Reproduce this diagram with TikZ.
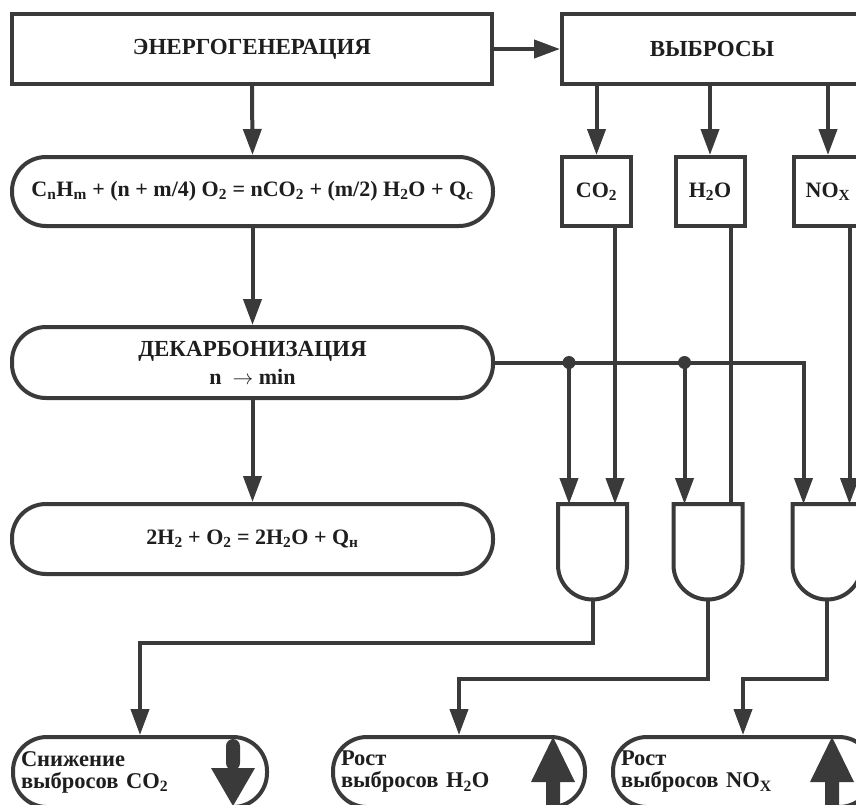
\documentclass[tikz,border=0pt]{standalone}
\usepackage{fontspec}
\setmainfont{Liberation Serif}
\usetikzlibrary{arrows.meta}
\definecolor{lc}{HTML}{3A3A3A}
\definecolor{tc}{HTML}{1E1E1E}
\newcommand{\sbs}[1]{\textsubscript{#1}}
\begin{document}
\begin{tikzpicture}[x=1pt,y=-1pt,
  box/.style={draw=lc, line width=4pt, fill=white, inner sep=0pt, text=tc,
    font=\bfseries\fontsize{23}{25}\selectfont, align=center},
  stad/.style={box, rounded corners=34pt, minimum width=481pt,
    font=\bfseries\fontsize{22}{28}\selectfont},
  sq/.style={box, minimum width=69pt, minimum height=69pt,
    font=\bfseries\fontsize{22}{24}\selectfont},
  res/.style={box, rounded corners=34pt, minimum height=70pt, align=left,
    font=\bfseries\fontsize{22.5}{22}\selectfont},
  arr/.style={draw=lc, line width=4pt, -{Triangle[length=26pt,width=18pt]}},
  wire/.style={draw=lc, line width=4pt},
  bigarr/.style={fill=lc, draw=none},
  ]
\useasboundingbox (0,0) rectangle (856,804);
\clip (0,0) rectangle (856,804);

% left column
\node[box, minimum width=480pt, minimum height=70pt] (en) at (252,49) {ЭНЕРГОГЕНЕРАЦИЯ};
\node[stad, minimum height=69pt] (f1) at (252.5,191.5)
  {C\sbs{n}H\sbs{m} + (n + m/4) O\sbs{2} = nCO\sbs{2} + (m/2) H\sbs{2}O + Q\sbs{c}};
\node[stad, minimum height=71pt] (dk) at (252.5,362.5)
  {{\fontsize{23}{28}\selectfont ДЕКАРБОНИЗАЦИЯ}\\n~~$\rightarrow$ min};
\node[stad, minimum height=70pt] (f2) at (252.5,539)
  {2H\sbs{2} + O\sbs{2} = 2H\sbs{2}O + Q\sbs{н}};

% right column
\node[box, minimum width=300pt, minimum height=70pt] (vy) at (712,49) {ВЫБРОСЫ};
\node[sq] (co2) at (596.5,191.5) {CO\sbs{2}};
\node[sq] (h2o) at (710,191.5) {H\sbs{2}O};
\node[sq] (nox) at (828,191.5) {NO\sbs{X}};

% gates
\foreach \i/\x in {1/592.5, 2/708, 3/827}{
  \draw[wire, fill=white] (\x-34.5,504) -- (\x+34.5,504) -- (\x+34.5,565)
    arc[start angle=0, end angle=180, radius=34.5] -- cycle;
  \coordinate (g\i a) at (\x-23.5,504);
  \coordinate (g\i b) at (\x+22.5,504);
  \coordinate (g\i o) at (\x,599.5);
}

% result boxes
\node[res, minimum width=254pt, text width=238pt] (r1) at (140,772)
  {Снижение\\выбросов CO\sbs{2}};
\node[res, minimum width=252pt, text width=236pt] (r2) at (459,772)
  {Рост\\выбросов H\sbs{2}O};
\node[res, minimum width=260pt, text width=244pt] (r3) at (743,772)
  {Рост\\выбросов NO\sbs{X}};

% big arrows inside result boxes
\path[bigarr, rounded corners=7pt] (226,770) -- (226,739) -- (240,739) -- (240,770) -- cycle;
\path[bigarr] (211,768) -- (255,768) -- (233,806) -- cycle;
\path[bigarr] (553,737) -- (575,782) -- (560,782) -- (560,810) -- (546,810) -- (546,782) -- (531,782) -- cycle;
\path[bigarr] (832,737) -- (854,782) -- (839,782) -- (839,810) -- (825,810) -- (825,782) -- (810,782) -- cycle;

% connectors
\draw[arr] (en.east) -- (vy.west);
\draw[arr] (en.south) -- (f1.north);
\draw[arr] (f1.south) -- (dk.north);
\draw[arr] (dk.south) -- (f2.north);
\draw[arr] (vy.south -| co2.north) -- (co2.north);
\draw[arr] (vy.south -| h2o.north) -- (h2o.north);
\draw[arr] (vy.south -| nox.north) -- (nox.north);

\draw[arr] (co2.south -| g1b) -- (g1b);
\draw[wire] (h2o.south -| g2b) -- (g2b);
\draw[arr] (nox.south -| g3b) -- (g3b);

\coordinate (j1) at (dk.east -| g1a);
\coordinate (j2) at (dk.east -| g2a);
\draw[arr] (dk.east) -| (g3a);
\draw[arr] (j1) -- (g1a);
\draw[arr] (j2) -- (g2a);
\fill[lc] (j1) circle[radius=6.5];
\fill[lc] (j2) circle[radius=6.5];

\draw[arr] (g1o) -- ++(0,43.5) -| (r1.north);
\draw[arr] (g2o) -- ++(0,79.5) -| (r2.north);
\draw[arr] (g3o) -- ++(0,79.5) -| (r3.north);
\end{tikzpicture}
\end{document}
